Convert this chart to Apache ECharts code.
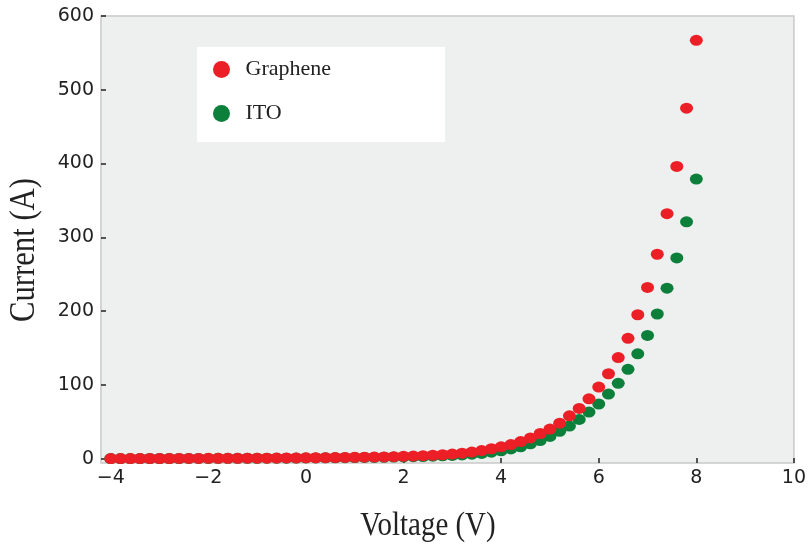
<!DOCTYPE html>
<html>
<head>
<meta charset="utf-8">
<script src="https://cdn.jsdelivr.net/npm/echarts@6/dist/echarts.min.js"></script>
<style>
html,body{margin:0;padding:0;background:#fff;}
#chart{width:809px;height:544px;}
</style>
</head>
<body>
<div id="chart"></div>
<script>
// Voltage values (V), -4 to 8 in 0.2 steps
const voltage = [
  -4.0,-3.8,-3.6,-3.4,-3.2,-3.0,-2.8,-2.6,-2.4,-2.2,
  -2.0,-1.8,-1.6,-1.4,-1.2,-1.0,-0.8,-0.6,-0.4,-0.2,
   0.0, 0.2, 0.4, 0.6, 0.8, 1.0, 1.2, 1.4, 1.6, 1.8,
   2.0, 2.2, 2.4, 2.6, 2.8, 3.0, 3.2, 3.4, 3.6, 3.8,
   4.0, 4.2, 4.4, 4.6, 4.8, 5.0, 5.2, 5.4, 5.6, 5.8,
   6.0, 6.2, 6.4, 6.6, 6.8, 7.0, 7.2, 7.4, 7.6, 7.8, 8.0
];
// Current (A)
const graphene = [
  0.0, 0.0, 0.0, 0.1, 0.1, 0.1, 0.1, 0.2, 0.2, 0.2,
  0.3, 0.3, 0.4, 0.4, 0.5, 0.5, 0.6, 0.7, 0.8, 0.9,
  1.0, 1.1, 1.2, 1.4, 1.5, 1.7, 1.9, 2.1, 2.3, 2.6,
  3.0, 3.4, 3.9, 4.5, 5.2, 6.1, 7.3, 8.8, 10.8, 13.3,
  16, 19, 23, 28, 34, 40, 48, 58, 68, 81,
  97, 115, 137, 163, 195, 232, 277, 332, 396, 475, 567
];
const ito = [
  0.0, 0.0, 0.0, 0.0, 0.1, 0.1, 0.1, 0.1, 0.2, 0.2,
  0.2, 0.3, 0.3, 0.3, 0.4, 0.4, 0.5, 0.5, 0.6, 0.7,
  0.8, 0.9, 1.0, 1.1, 1.2, 1.3, 1.5, 1.6, 1.8, 2.0,
  2.2, 2.5, 2.8, 3.2, 3.7, 4.3, 5.0, 5.9, 7.0, 8.6,
  10.5, 13, 16, 20, 24.5, 30, 37, 44, 53, 63,
  74, 87.5, 102, 121, 142, 167, 196, 231, 272, 321, 379
];
const xTicks = [-4, -2, 0, 2, 4, 6, 8, 10];
const yTicks = [0, 100, 200, 300, 400, 500, 600];
const seriesNames = ['Graphene', 'ITO'];
const xTitle = 'Voltage (V)';
const yTitle = 'Current (A)';

const RED = '#ec1f26';
const GREEN = '#0c7f3b';
const ELLIPSE = 'path://M1,0A1,1,0,1,1,-1,0A1,1,0,1,1,1,0Z';

const chart = echarts.init(document.getElementById('chart'), null, {renderer: 'canvas'});
const minusFmt = v => String(v).replace('-', '\u2212');

chart.setOption({
  animation: false,
  backgroundColor: '#ffffff',
  grid: {
    left: 101, right: 12, top: 16, bottom: 81,
    show: true,
    backgroundColor: '#eef0f0',
    borderColor: '#c9c9c9',
    borderWidth: 1.5
  },
  xAxis: {
    type: 'value',
    min: -4.2, max: 10,
    axisLine: {show: false, onZero: false},
    splitLine: {show: false},
    axisTick: {show: true, inside: true, length: 5, customValues: xTicks,
      lineStyle: {color: '#222', width: 1.5}},
    axisLabel: {customValues: xTicks, formatter: minusFmt, margin: 6,
      fontFamily: 'DejaVu Sans', fontSize: 19, color: '#222'}
  },
  yAxis: {
    type: 'value',
    min: -6, max: 600,
    axisLine: {show: false, onZero: false},
    splitLine: {show: false},
    axisTick: {show: true, inside: true, length: 5, customValues: yTicks,
      lineStyle: {color: '#222', width: 1.5}},
    axisLabel: {customValues: yTicks, formatter: minusFmt, margin: 7,
      fontFamily: 'DejaVu Sans', fontSize: 19, color: '#222',
      padding: [6, 0, 0, 0]}
  },
  legend: {
    left: 197, top: 47,
    orient: 'vertical',
    backgroundColor: '#ffffff',
    padding: [11.5, 114, 17.5, 16],
    itemWidth: 20, itemHeight: 17, itemGap: 22,
    data: [
      {name: seriesNames[0], icon: ELLIPSE},
      {name: seriesNames[1], icon: ELLIPSE}
    ],
    textStyle: {fontFamily: 'Liberation Serif', fontSize: 22, color: '#222',
      lineHeight: 17, padding: [0, 0, 0, 9]}
  },
  series: [
    {
      name: seriesNames[1], type: 'scatter',
      symbol: ELLIPSE, symbolSize: [13, 11],
      itemStyle: {color: GREEN, opacity: 1},
      data: voltage.map((v, i) => [v, ito[i]]),
      z: 2
    },
    {
      name: seriesNames[0], type: 'scatter',
      symbol: ELLIPSE, symbolSize: [13, 11],
      itemStyle: {color: RED, opacity: 1},
      data: voltage.map((v, i) => [v, graphene[i]]),
      z: 3
    }
  ],
  graphic: [
    {
      type: 'text', x: 25, y: 250, rotation: Math.PI / 2,
      scaleX: 0.852, scaleY: 1,
      style: {text: yTitle, fontFamily: 'Liberation Serif', fontSize: 36,
        fill: '#222', align: 'center', verticalAlign: 'middle'}
    },
    {
      type: 'text', x: 428, y: 526,
      scaleX: 0.877, scaleY: 1,
      style: {text: xTitle, fontFamily: 'Liberation Serif', fontSize: 33,
        fill: '#222', align: 'center', verticalAlign: 'middle'}
    }
  ]
});
</script>
</body>
</html>
